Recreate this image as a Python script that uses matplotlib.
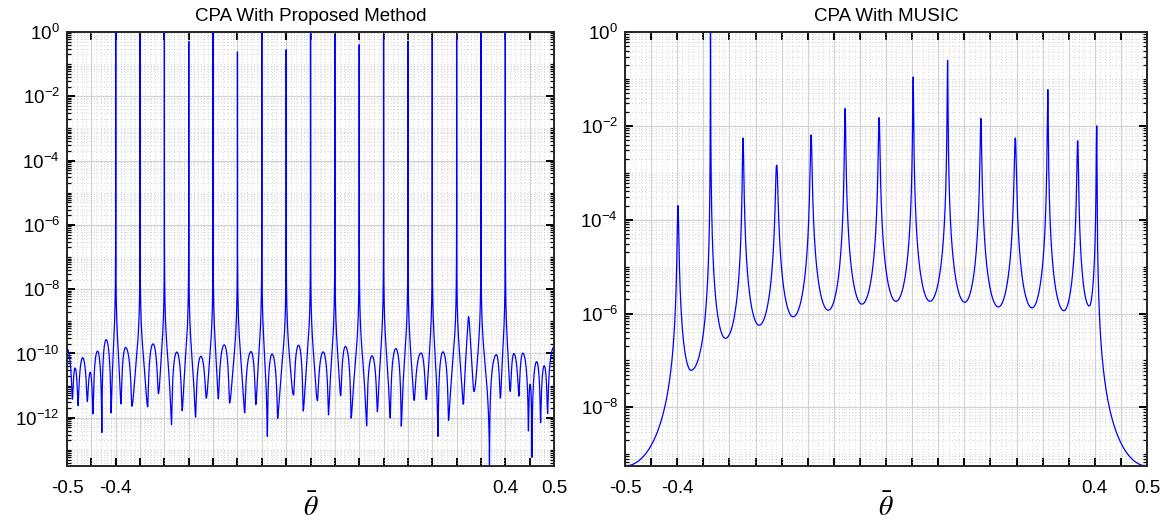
import numpy as np
import matplotlib
matplotlib.use("Agg")
import matplotlib.pyplot as plt
from matplotlib.ticker import FixedLocator, FixedFormatter, NullFormatter

plt.rcParams["font.family"] = ["Liberation Sans", "DejaVu Sans"]
plt.rcParams["mathtext.fontset"] = "stix"
plt.rcParams["axes.unicode_minus"] = False

# ---------------- Left panel: CPA With Proposed Method ----------------
left_peak_theta = [-0.40, -0.35, -0.30, -0.25, -0.20, -0.15, -0.10, -0.05, 0.00,
                   0.05, 0.10, 0.15, 0.20, 0.25, 0.30, 0.35, 0.40]
left_peak_height = [1.0, 0.70, 1.0, 0.51, 1.0, 0.24, 1.0, 0.28, 0.89,
                    0.79, 0.40, 0.70, 0.52, 0.60, 0.77, 1.0, 1.0]
left_small_spike_theta = [0.3247]
left_small_spike_height = [1.4e-9]
# nulls (position, log10 depth)
left_null_theta = [-0.4889, -0.4773, -0.4583, -0.4468, -0.4285, -0.4095, -0.3892, -0.3668,
                   -0.3342, -0.3125, -0.2854, -0.2637, -0.2359, -0.2142, -0.1892, -0.1664,
                   -0.1350, -0.1125, -0.0886, -0.0675, -0.0347, -0.0150, 0.0143, 0.0369,
                   0.0621, 0.0833, 0.1153, 0.1372, 0.1638, 0.1864, 0.2130, 0.2373,
                   0.2617, 0.2834, 0.3139, 0.3356, 0.3675, 0.3898, 0.4102, 0.4278,
                   0.4475, 0.4549, 0.4725, 0.4868]
left_null_log = [-11.42, -11.62, -11.49, -11.88, -12.46, -11.85, -11.57, -11.64,
                 -11.66, -11.25, -12.21, -11.78, -11.98, -11.39, -11.41, -11.54,
                 -11.85, -11.59, -12.58, -12.02, -11.29, -11.79, -11.47, -11.91,
                 -11.31, -12.01, -12.25, -11.81, -12.01, -12.26, -11.46, -11.43,
                 -12.58, -12.08, -11.58, -11.18, -13.50, -11.39, -11.18, -11.33,
                 -12.41, -13.23, -12.15, -11.87]
# side lobes (position, log10 maximum)
left_lobe_theta = [-0.5, -0.4834, -0.4678, -0.4522, -0.4373, -0.4197, -0.3797, -0.3234,
                   -0.2746, -0.2251, -0.1771, -0.1220, -0.0791, -0.0245, 0.0260, 0.0717,
                   0.1263, 0.1753, 0.2271, 0.2719, 0.3817, 0.4176, 0.4359, 0.4508,
                   0.4644, 0.4800, 0.5]
left_lobe_log = [-9.85, -10.49, -10.15, -10.62, -9.93, -9.57, -9.82, -9.71,
                 -9.96, -10.10, -9.74, -9.95, -10.02, -9.75, -9.96, -9.79,
                 -10.08, -9.85, -10.00, -9.95, -10.05, -10.03, -10.00, -10.97,
                 -10.26, -10.39, -9.80]

# ---------------- Right panel: CPA With MUSIC ----------------
right_peak_theta = [-0.3986, -0.3362, -0.2739, -0.2095, -0.1436, -0.0784, -0.0132,
                    0.0520, 0.1179, 0.1817, 0.2476, 0.3099, 0.3672, 0.4037]
right_peak_height = [2.0e-4, 1.0, 5.5e-3, 1.45e-3, 6.4e-3, 2.35e-2, 1.5e-2,
                     0.11, 0.25, 1.44e-2, 5.5e-3, 5.9e-2, 4.8e-3, 1.0e-2]
right_valley_theta = [-0.3735, -0.3076, -0.2431, -0.1779, -0.1106, -0.0461, 0.0191,
                      0.0842, 0.1509, 0.2153, 0.2798, 0.3407, 0.3894]
right_valley_log = [-7.21, -6.53, -6.25, -6.07, -5.93, -5.80, -5.74,
                    -5.74, -5.76, -5.86, -5.88, -5.94, -5.84]
right_edge_theta = [-0.5, 0.5]
right_edge_log = [-9.25, -9.25]

x_ticks = [-0.5, -0.45, -0.4, -0.35, -0.3, -0.25, -0.2, -0.15, -0.1, -0.05, 0.0,
           0.05, 0.1, 0.15, 0.2, 0.25, 0.3, 0.35, 0.4, 0.45, 0.5]
x_tick_labels = ["-0.5", "", "-0.4", "", "", "", "", "", "", "", "",
                 "", "", "", "", "", "", "", "0.4", "", "0.5"]

# ---------------- curve builders ----------------
SPIKE_A = 6e-15   # spike tail strength (left panel)
MUSIC_P = 3.0     # valley profile exponent (right panel)


def taper(x, a, m, b):
    out = np.ones_like(x)
    if m - a > 1e-12:
        l = x < m
        out[l] = np.sin(np.pi / 2 * np.clip((x[l] - a) / (m - a), 0, 1)) ** 2
    if b - m > 1e-12:
        r = x > m
        out[r] = np.sin(np.pi / 2 * np.clip((b - x[r]) / (b - m), 0, 1)) ** 2
    return out


def build_left(theta):
    sp_t = np.array(left_peak_theta + left_small_spike_theta)
    sp_h = np.array(left_peak_height + left_small_spike_height)
    lb_t = np.array(left_lobe_theta)
    lb_v = 10.0 ** np.array(left_lobe_log)
    bp = np.concatenate([[-0.5], left_null_theta, [0.5]])
    dp = np.concatenate([[0.0], 10.0 ** np.array(left_null_log), [0.0]])
    P = np.zeros_like(theta)
    for i in range(len(bp) - 1):
        a, b = bp[i], bp[i + 1]
        sel = (theta >= a) & (theta <= b)
        x = theta[sel]
        s_idx = np.where((sp_t > a) & (sp_t < b))[0]
        if len(s_idx):
            m, h = sp_t[s_idx[0]], sp_h[s_idx[0]]
            val = taper(x, a, m, b) / (1.0 / h + (x - m) ** 2 / SPIKE_A)
        else:
            l_idx = np.where((lb_t >= a - 1e-9) & (lb_t <= b + 1e-9))[0]
            m, L = lb_t[l_idx[0]], lb_v[l_idx[0]]
            val = L * taper(x, a, m, b)
        t = (x - a) / (b - a)
        val = val + dp[i] * (1 - t) + dp[i + 1] * t
        P[sel] = val
    return P


def build_right(theta):
    pts_t = [right_edge_theta[0]]
    pts_v = [10.0 ** right_edge_log[0]]
    kinds = ["v"]
    for k in range(len(right_peak_theta)):
        pts_t.append(right_peak_theta[k]); pts_v.append(right_peak_height[k]); kinds.append("p")
        if k < len(right_valley_theta):
            pts_t.append(right_valley_theta[k]); pts_v.append(10.0 ** right_valley_log[k]); kinds.append("v")
    pts_t.append(right_edge_theta[1]); pts_v.append(10.0 ** right_edge_log[1]); kinds.append("v")
    P = np.zeros_like(theta)
    for i in range(len(pts_t) - 1):
        a, b = pts_t[i], pts_t[i + 1]
        sel = (theta >= a) & (theta <= b)
        x = theta[sel]
        if kinds[i] == "p":
            h, v, t = pts_v[i], pts_v[i + 1], (x - a) / (b - a)
        else:
            h, v, t = pts_v[i + 1], pts_v[i], (b - x) / (b - a)
        g = np.sin(np.pi / 2 * t) ** MUSIC_P
        P[sel] = 1.0 / (1.0 / h + (1.0 / v - 1.0 / h) * g)
    return P


base = np.linspace(-0.5, 0.5, 60001)
theta_L = np.union1d(base, np.array(left_peak_theta + left_small_spike_theta + left_null_theta))
theta_R = np.union1d(base, np.array(right_peak_theta + right_valley_theta))
P_L = build_left(theta_L)
P_R = build_right(theta_R)

# ---------------- figure ----------------
fig = plt.figure(figsize=(11.65, 5.23), dpi=100)
axL = fig.add_axes([67 / 1165, 57 / 523, 487 / 1165, 434 / 523])
axR = fig.add_axes([625 / 1165, 57 / 523, 522 / 1165, 434 / 523])


def style(ax, P, theta, ylo, title, ymaj):
    ax.semilogy(theta, P, color=(0, 0, 1), lw=0.9)
    ax.set_xlim(-0.5, 0.5)
    ax.set_ylim(ylo, 1.0)
    ax.set_title(title, fontsize=13.5, pad=8)
    ax.xaxis.set_major_locator(FixedLocator(x_ticks))
    ax.xaxis.set_major_formatter(FixedFormatter(x_tick_labels))
    ax.xaxis.set_minor_locator(FixedLocator(np.round(np.arange(-0.5, 0.5001, 0.01), 3)))
    ax.xaxis.set_minor_formatter(NullFormatter())
    ax.yaxis.set_major_locator(FixedLocator([10.0 ** e for e in ymaj]))
    ax.yaxis.set_major_formatter(FixedFormatter([r"$\mathdefault{10^{%d}}$" % e for e in ymaj]))
    mins = []
    for e in range(-16, 1):
        for k in range(1, 10):
            v = k * 10.0 ** e
            if not (k == 1 and e in ymaj):
                mins.append(v)
    ax.yaxis.set_minor_locator(FixedLocator(mins))
    ax.yaxis.set_minor_formatter(NullFormatter())
    ax.tick_params(which="major", direction="in", length=5.5, width=1.4, top=True, right=True,
                   labelsize=13.5, color="black")
    ax.tick_params(axis="x", which="major", pad=10)
    ax.tick_params(axis="y", which="major", pad=5)
    ax.tick_params(axis="y", which="minor", direction="in", length=3, width=0.9, left=True, right=True)
    ax.tick_params(axis="x", which="minor", length=0, top=True)
    ax.grid(True, which="major", color="#d3d3d3", lw=0.9, ls="-")
    ax.grid(True, which="minor", color="#c4c4c4", lw=0.6, ls=(0, (1, 3)))
    ax.set_axisbelow(True)
    for s in ax.spines.values():
        s.set_linewidth(1.4)
        s.set_color("#262626")
    ax.set_xlabel(r"$\bar{\theta}$", fontsize=20, labelpad=-2)


style(axL, P_L, theta_L, 10 ** -13.5, "CPA With Proposed Method", [-12, -10, -8, -6, -4, -2, 0])
style(axR, P_R, theta_R, 10 ** -9.25, "CPA With MUSIC", [-8, -6, -4, -2, 0])

fig.savefig("out.png", dpi=100)
